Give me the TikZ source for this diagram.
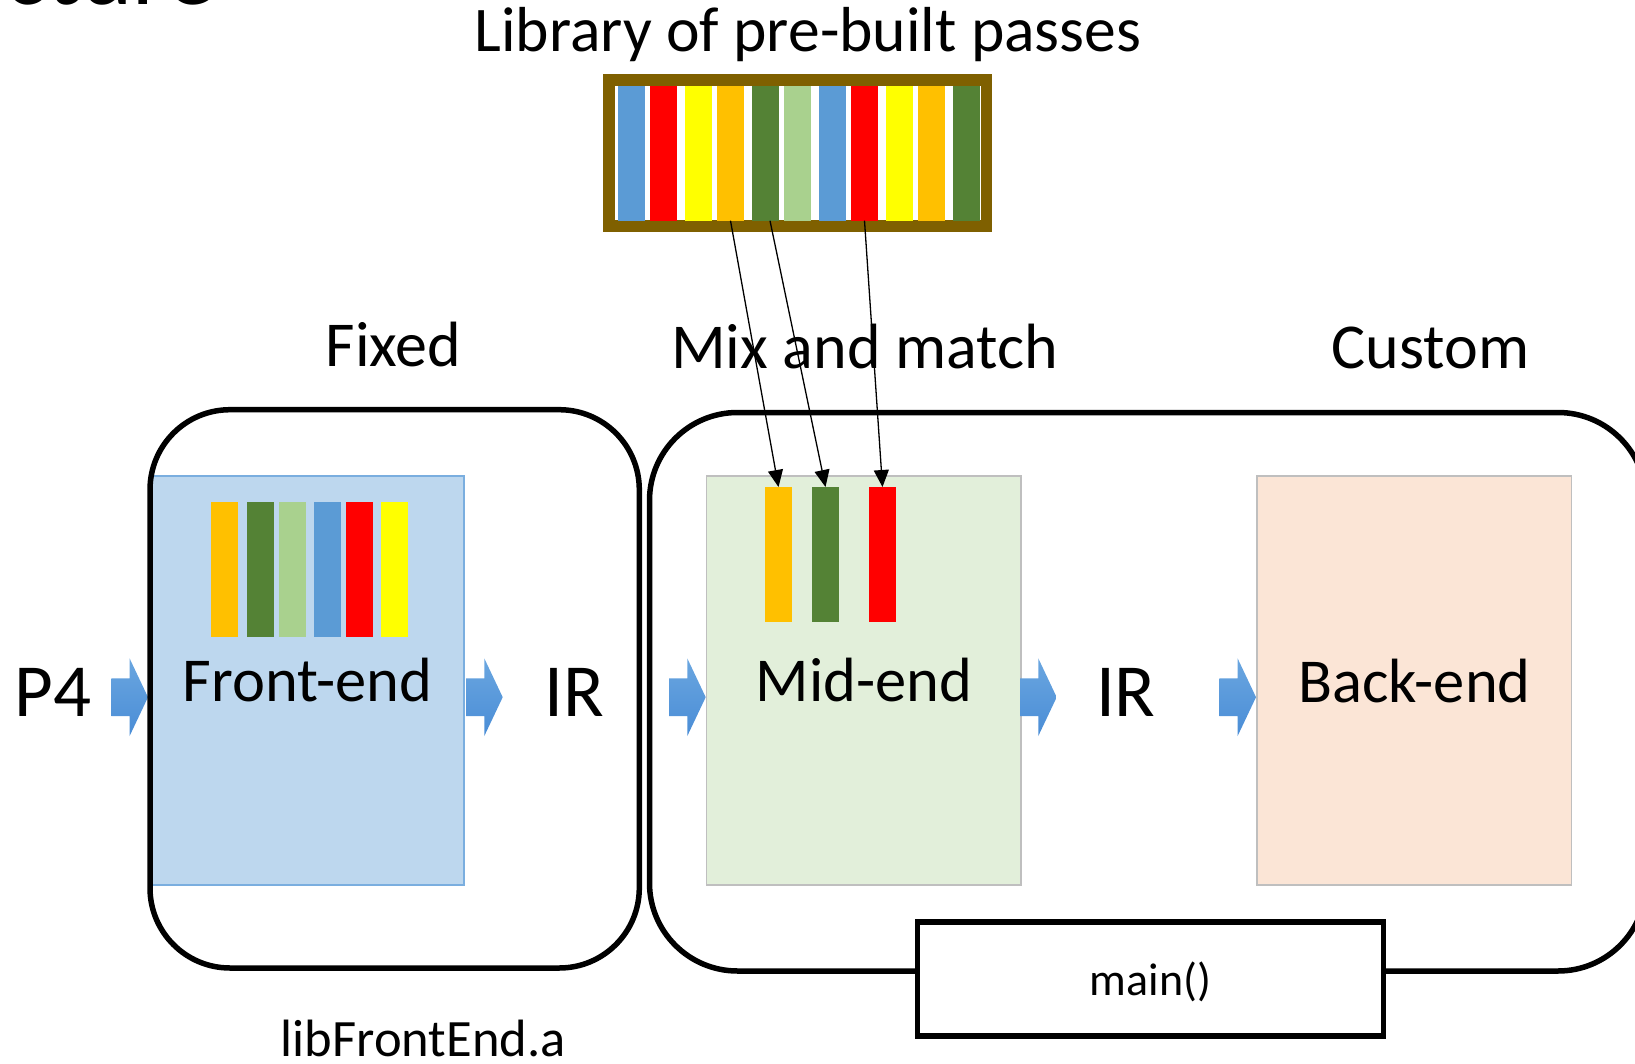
\documentclass[tikz,border=0pt]{standalone}
\usepackage{fontspec}
\setmainfont{Carlito}
\usetikzlibrary{arrows.meta}

\definecolor{passblue}{HTML}{5B9BD5}
\definecolor{passred}{HTML}{FF0000}
\definecolor{passyellow}{HTML}{FFFF00}
\definecolor{passorange}{HTML}{FFC000}
\definecolor{passgreen}{HTML}{548235}
\definecolor{passlight}{HTML}{A9D18E}
\definecolor{libbrown}{HTML}{7F6000}
\definecolor{frontfill}{HTML}{BDD7EE}
\definecolor{frontline}{HTML}{7AAEDF}
\definecolor{midfill}{HTML}{E2EFDA}
\definecolor{backfill}{HTML}{FBE5D6}
\definecolor{stageline}{HTML}{BFBFBF}
\definecolor{flowtop}{HTML}{6AA6E0}
\definecolor{flowbot}{HTML}{4A8DD6}

\newcommand\sizedfont[1]{\fontsize{#1}{#1}\selectfont}

\begin{document}
\begin{tikzpicture}[x=1pt, y=-1pt,
  txt/.style={inner sep=0pt, anchor=base, text=black},
  stripe/.style={inner sep=0pt, outer sep=0pt, minimum width=27pt, minimum height=135pt, fill=#1},
  stagebox/.style={inner sep=0pt, outer sep=0pt, line width=1.2pt},
  groupbox/.style={draw=black, line width=5.5pt, inner sep=0pt, outer sep=0pt},
  passarrow/.style={-{Triangle[length=17pt,width=15pt]}, line width=1.3pt},
  flow/.pic={
    \shade[top color=flowtop, bottom color=flowbot]
      (-36.7,-18.85) -- (-18.4,-18.85) -- (-18.4,-38.85) -- (0,0)
      -- (-18.4,38.85) -- (-18.4,18.85) -- (-36.7,18.85) -- cycle;
  }]
\useasboundingbox (0,0) rectangle (1635,1064);
\clip (0,0) rectangle (1635,1064);

% slide heading, cut by the top edge
\node[txt, anchor=base east, font=\sizedfont{100}] (heading) at (216,4.5) {Architecture};

% library of passes
\node[txt, font=\sizedfont{63.6}] (title) at (808,52) {Library of pre-built passes};
\node[draw=libbrown, line width=11.7pt, fill=white, inner sep=0pt,
      minimum width=377.3pt, minimum height=146.3pt] (lib) at (797.8,153) {};
\node[stripe=passblue]   (lib1)  at (631.5,153.2) {};
\node[stripe=passred]    (lib2)  at (663.5,153.2) {};
\node[stripe=passyellow] (lib3)  at (698.5,153.2) {};
\node[stripe=passorange] (lib4)  at (730.5,153.2) {};
\node[stripe=passgreen]  (lib5)  at (765.5,153.2) {};
\node[stripe=passlight]  (lib6)  at (797.5,153.2) {};
\node[stripe=passblue]   (lib7)  at (832.5,153.2) {};
\node[stripe=passred]    (lib8)  at (864.5,153.2) {};
\node[stripe=passyellow] (lib9)  at (899.5,153.2) {};
\node[stripe=passorange] (lib10) at (931.5,153.2) {};
\node[stripe=passgreen]  (lib11) at (966.5,153.2) {};

% group labels
\node[txt, font=\sizedfont{64}] (fixed)  at (393.7,366.7) {Fixed};
\node[txt, font=\sizedfont{64}] (mix)    at (864.5,368.3) {Mix and match};
\node[txt, font=\sizedfont{64}] (custom) at (1430.7,368) {Custom};

% compiler stages
\node[stagebox, draw=frontline, fill=frontfill, minimum width=313pt, minimum height=409pt] (front) at (307.5,680.5) {};
\node[stagebox, draw=stageline, fill=midfill, minimum width=314.3pt, minimum height=409pt] (mid) at (863.85,680.5) {};
\node[stagebox, draw=stageline, fill=backfill, minimum width=314.7pt, minimum height=409pt] (back) at (1414.35,680.5) {};

% passes built into the front-end
\node[stripe=passorange] (fe1) at (224.5,569.3) {};
\node[stripe=passgreen]  (fe2) at (260.5,569.3) {};
\node[stripe=passlight]  (fe3) at (292.5,569.3) {};
\node[stripe=passblue]   (fe4) at (327.5,569.3) {};
\node[stripe=passred]    (fe5) at (359.5,569.3) {};
\node[stripe=passyellow] (fe6) at (394.5,569.3) {};

% passes chosen for the mid-end
\node[stripe=passorange] (me1) at (778.5,554.5) {};
\node[stripe=passgreen]  (me2) at (825.5,554.5) {};
\node[stripe=passred]    (me3) at (882.5,554.5) {};

% flow arrows between the stages
\pic at (148,697.2) {flow};
\pic at (502.7,697.2) {flow};
\pic at (705.7,697.2) {flow};
\pic at (1056.7,697.2) {flow};
\pic at (1256,697.2) {flow};

% stage texts
\node[txt, font=\sizedfont{75}] (p4)  at (52.8,716.7) {P4};
\node[txt, font=\sizedfont{75}] (ir1) at (574,716.7) {IR};
\node[txt, font=\sizedfont{75}] (ir2) at (1125.8,716.7) {IR};
\node[txt, font=\sizedfont{62.5}] (fronttext) at (307.5,701.7) {Front-end};
\node[txt, font=\sizedfont{62.5}] (midtext)   at (863.9,701.7) {Mid-end};
\node[txt, font=\sizedfont{62.5}] (backtext)  at (1414.4,702) {Back-end};

% fixed and custom groups
\node[groupbox, rounded corners=80pt, minimum width=489.3pt, minimum height=558.3pt] (fixedbox) at (394.65,688.85) {};
\node[groupbox, rounded corners=88pt, minimum width=996.5pt, minimum height=558.5pt] (custombox) at (1147.75,691.75) {};

% driver
\node[groupbox, fill=white, minimum width=465.8pt, minimum height=114pt] (main) at (1150.4,979) {};
\node[txt, font=\sizedfont{46}] (maintext) at (1150.4,995) {main()};

\node[txt, font=\sizedfont{52.5}] (libname) at (423.3,1056.7) {libFrontEnd.a};

% passes taken from the library
\draw[passarrow] (lib4.south) -- (me1.north);
\draw[passarrow] ([xshift=4.5pt]lib5.south) -- (me2.north);
\draw[passarrow] (lib8.south) -- (me3.north);
\end{tikzpicture}
\end{document}
